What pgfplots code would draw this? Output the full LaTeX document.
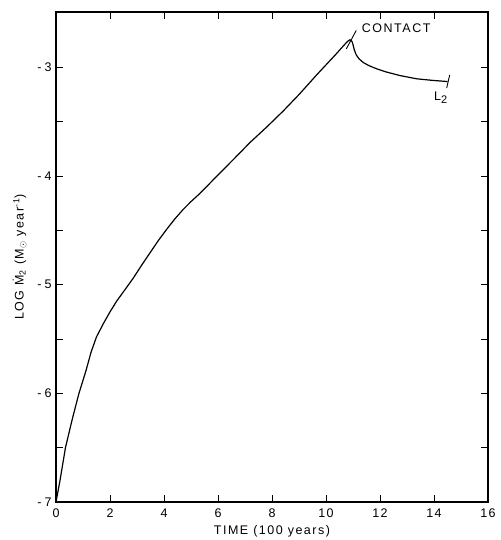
\documentclass[border=0pt]{standalone}
\usepackage{fontspec}
\setmainfont{Liberation Sans}[LetterSpace=12]
\usepackage{pgfplots}
\pgfplotsset{compat=1.18}
\begin{document}
\begin{tikzpicture}
\begin{axis}[
  name=ax,
  scale only axis,
  width=432pt, height=490pt,
  xmin=0, xmax=16, ymin=-7, ymax=-2.49,
  axis line style={line width=1.1pt},
  xtick={0,2,...,16},
  xticklabels={0,2,4,6,8,10,12,14,16},
  ytick={-7,-6,-5,-4,-3},
  yticklabels={-\hspace{3pt}7,-\hspace{3pt}6,-\hspace{3pt}5,-\hspace{3pt}4,-\hspace{3pt}3},
  minor ytick={-6.5,-5.5,-4.5,-3.5},
  tick align=inside,
  major tick length=7pt, minor tick length=7pt,
  tick style={line width=0.9pt, black},
  tick label style={font=\fontsize{12.5}{14}\selectfont},
  label style={font=\fontsize{12.5}{14}\selectfont},
  xticklabel style={yshift=-3pt},
  yticklabel style={xshift=-1pt},
  xlabel={TIME (100 years)},
  ylabel={LOG \.M\textsubscript{2} (M\raisebox{-2pt}{$\scriptstyle\odot$} year\textsuperscript{-1})},
  xlabel style={yshift=-1pt},
  ylabel style={yshift=4pt},
  clip=false,
]
\addplot[black, line width=1.2pt] coordinates {
(0,-7) (0.15,-6.8) (0.35,-6.5) (0.6,-6.24) (0.85,-6.0) (1.1,-5.8) (1.3,-5.62)
(1.5,-5.48) (1.75,-5.36) (2.0,-5.25) (2.25,-5.15) (2.6,-5.03) (2.86,-4.94)
(3.2,-4.81) (3.5,-4.70) (3.8,-4.59) (4.1,-4.49) (4.4,-4.395) (4.7,-4.31)
(5.0,-4.235) (5.33,-4.16) (6,-3.99) (6.6,-3.84) (7.19,-3.69) (7.8,-3.55)
(8.42,-3.40) (9.0,-3.25) (9.65,-3.07) (10.1,-2.95) (10.4,-2.87)
(10.65,-2.8) (10.8,-2.76) (10.89,-2.745) (10.96,-2.76) (11.0,-2.79)
(11.05,-2.84) (11.12,-2.885) (11.22,-2.92) (11.38,-2.955) (11.6,-2.985)
(11.9,-3.015) (12.2,-3.04) (12.74,-3.075) (13.36,-3.105) (13.97,-3.12) (14.5,-3.13)
};
\addplot[black, line width=0.9pt] coordinates {(10.75,-2.83) (11.12,-2.66)};
\addplot[black, line width=0.9pt] coordinates {(14.47,-3.19) (14.58,-3.07)};
\node[anchor=west, font=\fontsize{12.5}{14}\selectfont] at (axis cs:11.2,-2.635) {CONTACT};
\node[font=\fontsize{12.5}{14}\selectfont] at (axis cs:14.25,-3.28) {L\raisebox{-3pt}{\fontsize{11}{12}\selectfont 2}};
\end{axis}
\pgfresetboundingbox
\path[use as bounding box] ([shift={(-56pt,-38pt)}]ax.south west) rectangle ([shift={(12pt,12pt)}]ax.north east);
\end{tikzpicture}
\end{document}
